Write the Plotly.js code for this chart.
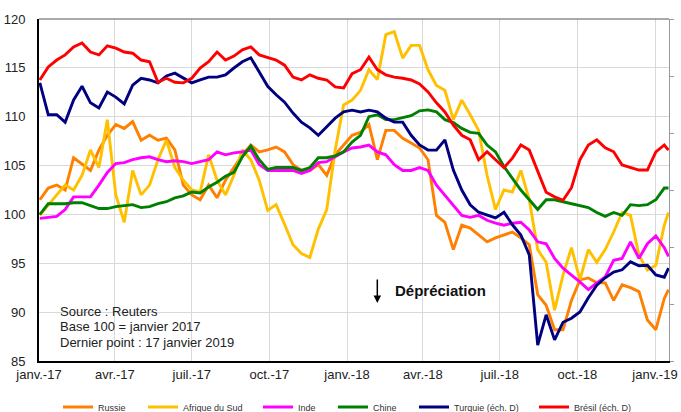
<!DOCTYPE html>
<html><head><meta charset="utf-8">
<script src="https://cdn.plot.ly/plotly-3.0.1.min.js"></script>
<style>html,body{margin:0;padding:0;background:#fff}</style>
</head><body>
<div id="chart" style="width:681px;height:412px"></div>
<script>
const dates = ['2017-01-02','2017-01-12','2017-01-22','2017-02-01','2017-02-11','2017-02-21','2017-03-03','2017-03-13','2017-03-23','2017-04-02','2017-04-12','2017-04-22','2017-05-02','2017-05-12','2017-05-22','2017-06-01','2017-06-11','2017-06-21','2017-07-01','2017-07-11','2017-07-21','2017-07-31','2017-08-10','2017-08-20','2017-08-30','2017-09-09','2017-09-19','2017-09-29','2017-10-09','2017-10-19','2017-10-29','2017-11-08','2017-11-18','2017-11-28','2017-12-08','2017-12-18','2017-12-28','2018-01-07','2018-01-17','2018-01-27','2018-02-06','2018-02-16','2018-02-26','2018-03-08','2018-03-18','2018-03-28','2018-04-07','2018-04-17','2018-04-27','2018-05-07','2018-05-17','2018-05-27','2018-06-06','2018-06-16','2018-06-26','2018-07-06','2018-07-16','2018-07-26','2018-08-05','2018-08-15','2018-08-25','2018-09-04','2018-09-14','2018-09-24','2018-10-04','2018-10-14','2018-10-24','2018-11-03','2018-11-13','2018-11-23','2018-12-03','2018-12-13','2018-12-23','2019-01-02','2019-01-12','2019-01-17'];

const russie = [101.5,102.7,103.0,102.5,105.8,105.1,104.5,106.6,108.1,109.2,108.8,109.5,107.6,108.1,107.6,107.8,106.6,103.0,102.0,101.5,
103.0,101.7,103.5,104.8,106.1,107.1,106.4,106.6,106.9,106.4,105.1,104.5,104.5,105.1,104.0,106.1,107.1,108.1,
108.4,109.2,105.6,108.6,108.6,107.8,107.3,106.8,105.6,99.9,99.2,96.4,98.9,98.6,97.9,97.2,97.6,97.9,
98.2,97.6,96.9,91.8,90.7,88.2,88.2,91.2,93.3,93.5,93.0,93.0,91.2,92.8,92.5,92.1,89.2,88.2,91.4,92.3];

const afriqueDuSud = [99.9,101.0,102.0,103.0,102.5,104.0,106.6,104.8,109.7,102.0,99.2,104.5,102.0,103.0,105.6,107.6,104.8,103.5,102.5,102.3,
106.1,103.5,102.0,104.0,106.6,105.6,103.5,100.4,101.0,99.0,96.9,96.0,95.6,98.5,100.5,106.6,111.2,111.7,
112.7,114.8,113.8,118.4,118.7,116.0,117.3,117.3,114.8,113.2,112.7,109.7,111.7,110.2,108.6,104.0,100.5,102.5,
102.3,104.5,101.5,96.4,95.1,90.2,93.8,96.6,93.3,96.4,95.1,96.4,98.2,100.2,99.9,95.8,94.3,94.8,98.9,100.2];

const inde = [99.6,99.7,99.8,100.5,101.8,101.8,101.8,103.0,104.3,105.2,105.3,105.6,105.8,105.9,105.6,105.4,105.5,105.4,105.2,105.4,
105.6,106.4,106.1,106.3,106.4,106.6,105.1,104.5,104.5,104.5,104.5,104.2,104.5,105.3,105.4,105.9,106.4,106.8,
106.9,107.1,106.4,106.1,105.1,104.5,104.5,104.8,104.5,103.0,102.0,101.0,99.9,99.7,99.9,99.4,99.1,98.9,
99.1,99.2,98.4,97.2,97.0,95.5,94.5,93.8,93.1,92.3,93.0,93.6,95.3,95.5,97.2,95.5,97.0,97.8,96.6,95.7];

const chine = [100.0,101.1,101.1,101.1,101.2,101.2,100.9,100.6,100.6,100.8,100.9,101.0,100.7,100.8,101.1,101.3,101.7,101.9,102.3,102.2,
102.8,103.3,103.9,104.3,105.9,107.0,105.6,104.6,104.8,104.8,104.8,104.5,104.8,105.8,105.8,106.0,106.4,107.4,
108.1,110.0,110.2,109.7,109.7,109.9,110.1,110.6,110.7,110.5,109.7,109.4,108.8,108.4,108.3,107.1,106.4,104.9,
103.7,102.5,101.5,100.5,101.5,101.5,101.3,101.1,100.9,100.7,100.2,99.8,100.2,99.9,101.0,100.9,101.0,101.5,102.7,102.7];

const turquie = [98.8,93.2,93.2,91.9,95.8,98.2,95.3,94.4,97.2,96.3,95.1,98.4,99.6,99.3,98.8,100.0,100.5,99.6,98.8,99.3,
99.8,99.8,100.2,101.4,102.5,103.2,100.7,98.2,96.7,95.4,93.5,91.9,90.9,89.6,91.1,92.6,93.7,94.0,
93.7,94.0,93.7,92.6,91.9,91.9,89.6,87.9,87.0,87.0,88.8,83.5,80.0,77.4,76.1,75.6,75.1,76.1,
73.9,72.1,68.6,52.8,58.1,53.7,56.8,57.5,58.6,61.1,63.3,64.6,65.6,66.0,67.4,66.7,66.8,65.1,64.7,66.3];

const bresil = [99.3,101.6,102.8,103.7,105.1,105.8,104.2,103.7,105.3,104.9,104.2,104.0,102.8,102.5,98.9,99.6,98.9,98.8,99.6,101.4,
102.5,104.2,102.8,103.5,104.6,105.1,103.7,103.2,102.8,101.9,99.8,99.3,100.2,99.6,99.3,98.1,97.9,100.4,
101.1,103.3,101.1,100.2,99.8,99.6,99.3,98.6,97.2,95.3,93.7,91.4,89.6,88.8,85.3,86.7,85.3,83.9,
85.6,87.9,87.0,83.2,79.6,78.8,78.2,80.4,85.3,87.9,88.8,87.4,86.7,84.4,83.9,83.5,83.5,86.7,87.9,87.0];

const quarterTicks = ['2017-01-01','2017-04-01','2017-07-01','2017-10-01','2018-01-01','2018-04-01','2018-07-01','2018-10-01','2019-01-01'];
const quarterLabels = ['janv.-17','avr.-17','juil.-17','oct.-17','janv.-18','avr.-18','juil.-18','oct.-18','janv.-19'];

const seriesNames = ['Russie','Afrique du Sud','Inde','Chine','Turquie (éch. D)','Brésil (éch. D)'];
const seriesValues = [russie, afriqueDuSud, inde, chine, turquie, bresil];
const seriesColors = ['#FF8000','#FFC000','#FF00FF','#008000','#000080','#FF0000'];
const seriesAxis = ['y','y','y','y','y2','y2'];
const legendX = [58,143,258,333,414,534];

const traces = seriesNames.map((n,i)=>({
  x: dates, y: seriesValues[i], name: n, type:'scatter', mode:'lines',
  yaxis: seriesAxis[i],
  legend: i===0 ? 'legend' : 'legend'+(i+1),
  line:{color:seriesColors[i], width:2.9}
}));

const layout = {
  width:681, height:412,
  margin:{l:39, r:12, t:19, b:51, autoexpand:false},
  paper_bgcolor:'#fff', plot_bgcolor:'#fff',
  font:{family:'Arial, "Liberation Sans", sans-serif', size:13, color:'#222'},
  showlegend:true,
  xaxis:{type:'date', range:['2017-01-01','2019-01-17 14:00'], tickmode:'array',
    tickvals:quarterTicks, ticktext:quarterLabels, showgrid:true, gridcolor:'#d9d9d9', gridwidth:1,
    showline:true, linecolor:'#000', linewidth:2, ticks:'',
    tickfont:{size:13,color:'#222'}, zeroline:false, fixedrange:true},
  yaxis:{range:[85,120], tick0:85, dtick:5, showgrid:true, gridcolor:'#d9d9d9', gridwidth:1,
    showline:true, linecolor:'#000', linewidth:2, ticks:'outside', ticklen:9, tickcolor:'rgba(0,0,0,0)',
    tickfont:{size:13,color:'#222'}, zeroline:false},
  yaxis2:{overlaying:'y', side:'right', range:[50,110], tick0:50, dtick:10, showticklabels:false,
    ticks:'outside', ticklen:4, tickcolor:'#999', showgrid:false, showline:true, linecolor:'#999', linewidth:1, zeroline:false},
  shapes:[{type:'line', xref:'paper', yref:'paper', x0:0, x1:1, y0:1, y1:1, line:{color:'#555', width:1}}],
  annotations:[
    {xref:'paper', yref:'paper', x:0.0302, y:0.1442, xanchor:'left', yanchor:'middle', showarrow:false, text:'Source : Reuters', font:{size:13,color:'#222'}},
    {xref:'paper', yref:'paper', x:0.0302, y:0.1003, xanchor:'left', yanchor:'middle', showarrow:false, text:'Base 100 = janvier 2017', font:{size:13,color:'#222'}},
    {xref:'paper', yref:'paper', x:0.0302, y:0.0535, xanchor:'left', yanchor:'middle', showarrow:false, text:'Dernier point : 17 janvier 2019', font:{size:13,color:'#222'}},
    {xref:'paper', yref:'paper', x:0.5614, y:0.2076, xanchor:'left', yanchor:'middle', showarrow:false, text:'<b>Dépréciation</b>', font:{size:15,color:'#111'}},
    {xref:'paper', yref:'paper', x:0.537, y:0.1696, ax:0, ay:-25, showarrow:true, text:'', arrowhead:2, arrowsize:1, arrowwidth:1.5, arrowcolor:'#000', standoff:0}
  ]
};
seriesNames.forEach((n,i)=>{
  const key = i===0 ? 'legend' : 'legend'+(i+1);
  layout[key] = {x:legendX[i]/681, xref:'container', y:5/412, yref:'container', xanchor:'left', yanchor:'middle',
    orientation:'h', font:{size:9,color:'#333'}, bgcolor:'rgba(0,0,0,0)', borderwidth:0, itemwidth:30};
});
Plotly.newPlot('chart', traces, layout, {displayModeBar:false, staticPlot:true});
</script>
</body></html>
